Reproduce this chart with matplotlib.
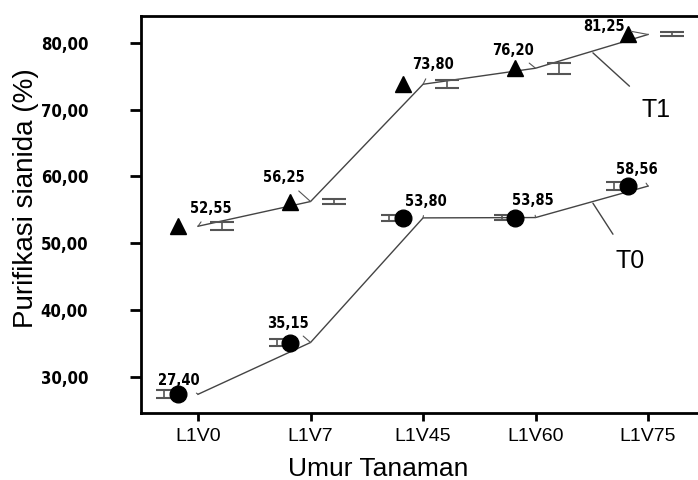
import numpy as np
import matplotlib.pyplot as plt
import matplotlib.transforms as mtransforms

categories = ['L1V0', 'L1V7', 'L1V45', 'L1V60', 'L1V75']
t1 = [52.55, 56.25, 73.80, 76.20, 81.25]
t0 = [27.40, 35.15, 53.80, 53.85, 58.56]
t1_err = [0.6, 0.4, 0.6, 0.8, 0.3]
t0_err = [0.6, 0.5, 0.5, 0.4, 0.6]
t1_labels = ['52,55', '56,25', '73,80', '76,20', '81,25']
t0_labels = ['27,40', '35,15', '53,80', '53,85', '58,56']

narrow = ['DejaVu Sans Condensed', 'Liberation Sans Narrow', 'DejaVu Sans']
plt.rcParams['font.family'] = ['Liberation Sans', 'DejaVu Sans']

fig = plt.figure(figsize=(6.98, 4.80), dpi=100)
ax = fig.add_axes([0.202, 0.1396, 0.798, 0.8274])
x = np.arange(len(categories))

# lines through the means
ax.plot(x, t1, color='#444444', lw=1.0, zorder=2)
ax.plot(x, t0, color='#444444', lw=1.0, zorder=2)

# markers, shifted left of the tick
ax.plot(x - 0.18, t1, '^', color='black', ms=11, zorder=4)
ax.plot(x - 0.18, t0, 'o', color='black', ms=12, zorder=4)

# error bars
ax.errorbar(x + 0.21, t1, yerr=t1_err, fmt='none', ecolor='#555555',
            elinewidth=1.2, capsize=8.5, capthick=1.5, zorder=3)
ax.errorbar(x - 0.30, t0, yerr=t0_err, fmt='none', ecolor='#555555',
            elinewidth=1.2, capsize=6, capthick=1.5, zorder=3)

# value labels (offsets in points)
t1_off = [(9, 13), (-19, 17), (7, 14), (-16, 13), (-32, 6)]
t0_off = [(-14, 10), (-16, 14), (2, 12), (-2, 12), (-8, 12)]
for xi, yi, s, off in zip(x, t1, t1_labels, t1_off):
    ax.annotate(s, (xi, yi), xytext=off, textcoords='offset points',
                ha='center', va='center', fontsize=10.5, fontweight='bold',
                family=narrow, fontstretch='condensed',
                arrowprops=dict(arrowstyle='-', color='#555555', lw=0.8,
                                shrinkA=3, shrinkB=0), zorder=5)
for xi, yi, s, off in zip(x, t0, t0_labels, t0_off):
    ax.annotate(s, (xi, yi), xytext=off, textcoords='offset points',
                ha='center', va='center', fontsize=10.5, fontweight='bold',
                family=narrow, fontstretch='condensed',
                arrowprops=dict(arrowstyle='-', color='#555555', lw=0.8,
                                shrinkA=3, shrinkB=0), zorder=5)

# series labels
ax.annotate('T1', (3.51, 78.5), xytext=(4.07, 69.9), ha='center', va='center',
            fontsize=18, arrowprops=dict(arrowstyle='-', color='#444444', lw=1.0,
                                         shrinkA=10, shrinkB=0))
ax.annotate('T0', (3.51, 56.0), xytext=(3.84, 47.4), ha='center', va='center',
            fontsize=18, arrowprops=dict(arrowstyle='-', color='#444444', lw=1.0,
                                         shrinkA=10, shrinkB=0))

ax.set_xlim(-0.507, 4.444)
ax.set_ylim(24.6, 84.04)
ax.set_xticks(x)
ax.set_xticklabels(categories, fontsize=14)
shift = mtransforms.ScaledTranslation(-16 / 100, 0, fig.dpi_scale_trans)
for lab in ax.get_xticklabels():
    lab.set_transform(lab.get_transform() + shift)
ax.set_yticks([30, 40, 50, 60, 70, 80])
ax.set_yticklabels(['30,00', '40,00', '50,00', '60,00', '70,00', '80,00'],
                   fontsize=12, fontweight='bold', family=narrow,
                   fontstretch='condensed')

for side in ['left', 'bottom', 'top']:
    ax.spines[side].set_linewidth(2)
ax.spines['right'].set_visible(False)
ax.tick_params(axis='y', direction='out', length=8, width=2, pad=30)
ax.tick_params(axis='x', direction='out', length=6, width=2, pad=5)

ax.set_xlabel('Umur Tanaman', fontsize=19)
ax.xaxis.set_label_coords(0.426, -0.11)
ax.set_ylabel('Purifikasi sianida (%)', fontsize=20)
ax.yaxis.set_label_coords(-0.183, 0.54)

plt.savefig('out.png', dpi=100)
